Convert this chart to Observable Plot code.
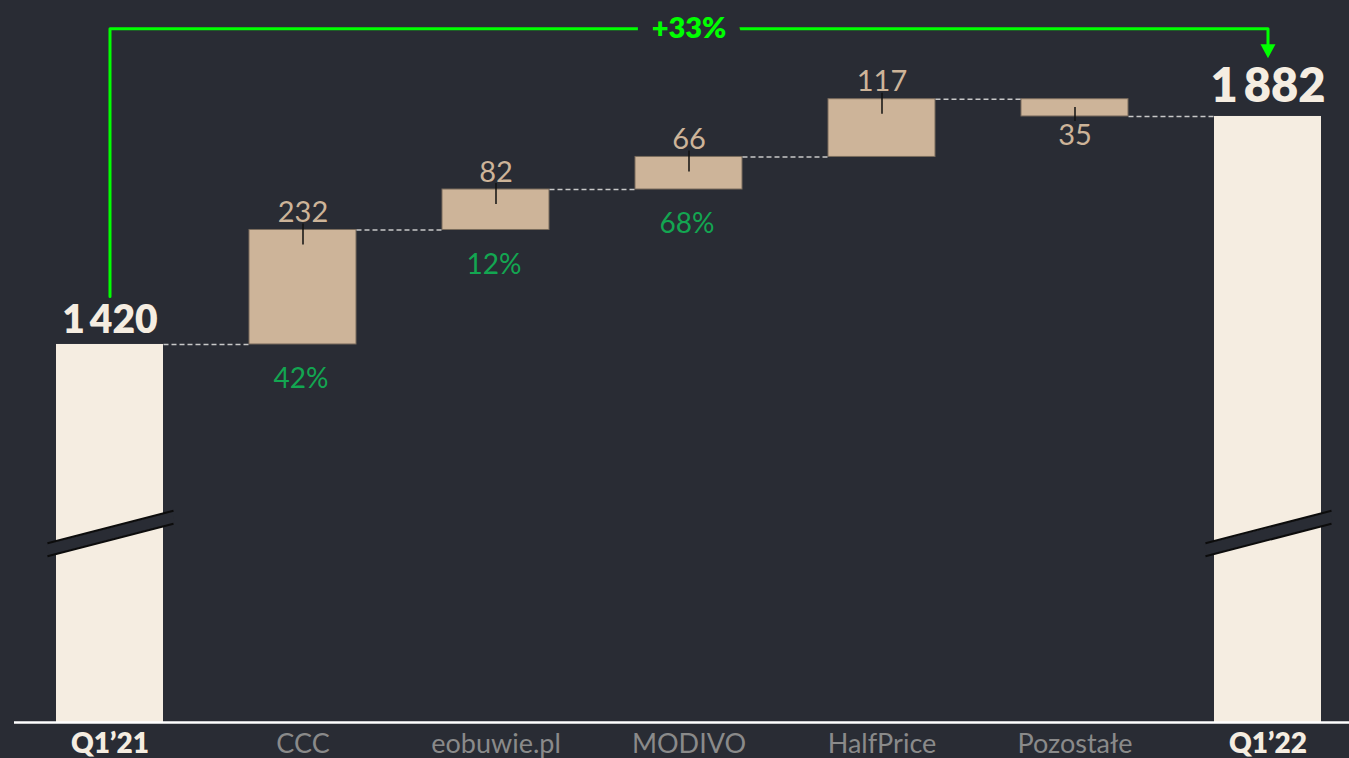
<!DOCTYPE html>
<html>
<head>
<meta charset="utf-8">
<script src="https://cdn.jsdelivr.net/npm/d3@7"></script>
<script src="https://cdn.jsdelivr.net/npm/@observablehq/plot@0.6"></script>
<style>
  html, body { margin: 0; padding: 0; background: #292c34; overflow: hidden; }
  #chart svg { display: block; }
</style>
</head>
<body>
<div id="chart"></div>
<script>
// ---- data ----
const categories = ["Q1’21", "CCC", "eobuwie.pl", "MODIVO", "HalfPrice", "Pozostałe", "Q1’22"];
const startTotal = 1420;
const endTotal = 1882;
const deltas = [232, 82, 66, 117, -35];
const shares = ["42%", "12%", "68%", null, null];
const growthLabel = "+33%";

// axis break / annotation levels (value units)
const yMin = 654;
const yMax = 2117;
const breakLo = 1004, breakHi = 1070;
const bracketLevel = 2060, bracketLeftEnd = 1517, bracketRightEnd = 2026, arrowTip = 2000;

// ---- styles ----
const bg = "#292c34";
const cream = "#f5ede1";
const tan = "#cdb499";
const green = "#13a651";
const brightGreen = "#00ff00";
const hw = 0.2772;
const font = "Lato";

// ---- derived rows ----
const totals = [
  {i: 0, name: categories[0], value: startTotal},
  {i: 6, name: categories[6], value: endTotal}
];
let run = startTotal;
const steps = deltas.map((d, k) => {
  const from = run; run += d;
  return {i: k + 1, name: categories[k + 1], from, to: run, delta: d, share: shares[k]};
});
const levels = [startTotal, ...steps.map(s => s.to)];
const connectors = levels.map((lv, k) => ({a: k, b: k + 1, level: lv}));
const fmt = v => d3.format(",")(v).replace(/,/g, "\u2009");

const bracket = [
  {x: 0, y: bracketLeftEnd}, {x: 0, y: bracketLevel},
  {x: 6, y: bracketLevel}, {x: 6, y: bracketRightEnd}
];
const downTri = {draw(ctx) { ctx.moveTo(0, 0); ctx.lineTo(-7.5, -14); ctx.lineTo(7.5, -14); ctx.closePath(); }};

const chart = Plot.plot({
  width: 1349, height: 758,
  marginTop: 0, marginBottom: 36, marginLeft: 14, marginRight: 0,
  x: {type: "linear", domain: [-0.4948, 6.4223], axis: null},
  y: {domain: [yMin, yMax], axis: null},
  style: {background: bg, fontFamily: font},
  marks: [
    // total bars
    Plot.rectY(totals, {x1: d => d.i - hw, x2: d => d.i + hw, y1: () => yMin, y2: "value", fill: cream}),
    // axis break
    Plot.link(totals, {x1: d => d.i - 0.324, x2: d => d.i + 0.329, y1: () => breakLo, y2: () => breakHi, stroke: bg, strokeWidth: 12}),
    Plot.link(totals, {x1: d => d.i - 0.324, x2: d => d.i + 0.329, y1: () => breakLo, y2: () => breakHi, dy: -6.5, stroke: "#0c0c0c", strokeWidth: 2}),
    Plot.link(totals, {x1: d => d.i - 0.324, x2: d => d.i + 0.329, y1: () => breakLo, y2: () => breakHi, dy: 6.5, stroke: "#0c0c0c", strokeWidth: 2}),
    // delta bars
    Plot.rectY(steps, {x1: d => d.i - hw, x2: d => d.i + hw, y1: "from", y2: "to", fill: tan, stroke: "#7a6c5d", strokeWidth: 1}),
    // connectors
    Plot.link(connectors, {x1: d => d.a + hw, x2: d => d.b - hw, y1: "level", y2: "level", stroke: "#c8c8c8", strokeWidth: 1.5, strokeDasharray: "5,3"}),
    // small markers on delta bars
    Plot.ruleX(steps.filter(d => d.delta >= 0), {x: "i", y1: "to", y2: "to", insetTop: -6, insetBottom: -15, stroke: "#111", strokeWidth: 1.5}),
    Plot.ruleX(steps.filter(d => d.delta < 0), {x: "i", y1: "to", y2: "to", insetTop: -9, insetBottom: -5, stroke: "#111", strokeWidth: 1.5}),
    // baseline
    Plot.ruleY([yMin], {stroke: "#ffffff", strokeWidth: 2.5}),
    // category labels
    Plot.text(totals, {x: "i", y: () => yMin, text: "name", lineAnchor: "top", dy: 11, fill: cream, fontSize: 28, fontWeight: 800}),
    Plot.text(steps, {x: "i", y: () => yMin, text: "name", lineAnchor: "top", dy: 11, fill: "#8a8a8a", fontSize: 27, fontWeight: 400}),
    // value labels
    Plot.text(steps.filter(d => d.delta >= 0), {x: "i", y: "to", text: d => fmt(Math.abs(d.delta)), lineAnchor: "bottom", dy: -8, fill: tan, fontSize: 29}),
    Plot.text(steps.filter(d => d.delta < 0), {x: "i", y: "to", text: d => fmt(Math.abs(d.delta)), lineAnchor: "top", dy: 8, fill: tan, fontSize: 29}),
    Plot.text(steps.filter(d => d.share), {x: "i", y: "from", text: "share", lineAnchor: "top", dy: 24, dx: -2, fill: green, fontSize: 28}),
    Plot.text(totals.filter(d => d.i === 0), {x: "i", y: "value", text: d => fmt(d.value), lineAnchor: "bottom", dy: -11, fill: cream, fontSize: 39, fontWeight: 800}),
    Plot.text(totals.filter(d => d.i === 6), {x: "i", y: "value", text: d => fmt(d.value), lineAnchor: "bottom", dy: -14, fill: cream, fontSize: 47, fontWeight: 800}),
    // growth bracket
    Plot.line(bracket, {x: "x", y: "y", stroke: brightGreen, strokeWidth: 3, curve: "linear"}),
    Plot.dot([{x: 6, y: arrowTip}], {x: "x", y: "y", symbol: downTri, fill: brightGreen, stroke: "none", r: 5}),
    Plot.text([growthLabel], {x: () => 3, y: () => bracketLevel, text: d => d, fill: brightGreen, stroke: bg, strokeWidth: 30, strokeLinejoin: "round", paintOrder: "stroke", fontSize: 29, fontWeight: 800})
  ]
});
document.getElementById("chart").appendChild(chart);
</script>
</body>
</html>
